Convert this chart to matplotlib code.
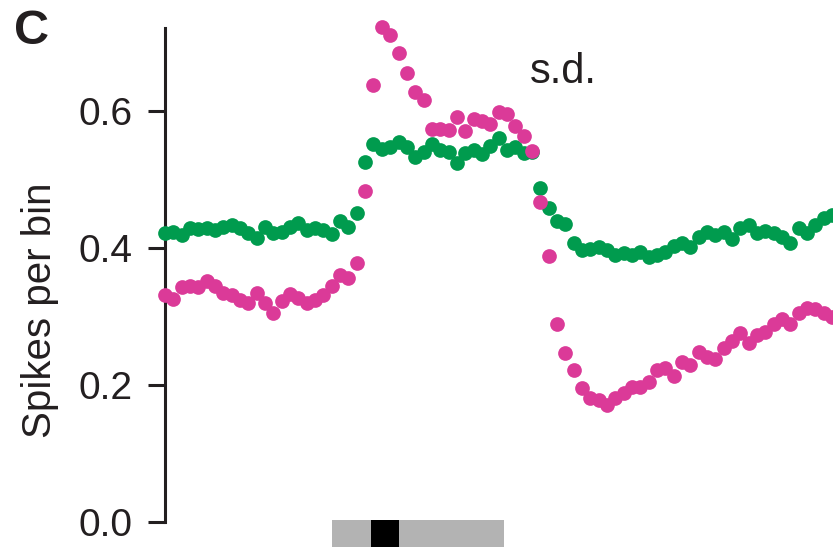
import matplotlib
matplotlib.use('Agg')
import matplotlib.pyplot as plt
import numpy as np

plt.rcParams['font.family'] = ['Liberation Sans', 'DejaVu Sans']

# Mean spike counts per time bin for the two conditions
green_counts = [
    0.422, 0.423, 0.419, 0.429, 0.428, 0.429, 0.426, 0.431, 0.434, 0.429,
    0.422, 0.414, 0.431, 0.422, 0.423, 0.431, 0.436, 0.426, 0.429, 0.426,
    0.420, 0.439, 0.431, 0.451, 0.526, 0.552, 0.544, 0.548, 0.555, 0.548,
    0.533, 0.540, 0.552, 0.543, 0.540, 0.524, 0.539, 0.543, 0.537, 0.549,
    0.561, 0.543, 0.548, 0.539, 0.540, 0.488, 0.458, 0.439, 0.435, 0.407,
    0.397, 0.399, 0.401, 0.397, 0.390, 0.393, 0.390, 0.394, 0.387, 0.390,
    0.394, 0.403, 0.407, 0.401, 0.416, 0.423, 0.419, 0.423, 0.413, 0.429,
    0.434, 0.422, 0.425, 0.422, 0.416, 0.407, 0.429, 0.422, 0.434, 0.444,
    0.448,
]
magenta_counts = [
    0.331, 0.326, 0.343, 0.345, 0.343, 0.352, 0.345, 0.334, 0.331, 0.324,
    0.320, 0.334, 0.320, 0.305, 0.323, 0.333, 0.327, 0.320, 0.324, 0.331,
    0.345, 0.361, 0.356, 0.378, 0.483, 0.638, 0.723, 0.711, 0.685, 0.656,
    0.628, 0.616, 0.574, 0.574, 0.572, 0.591, 0.571, 0.588, 0.585, 0.581,
    0.599, 0.596, 0.578, 0.564, 0.542, 0.467, 0.388, 0.289, 0.247, 0.222,
    0.196, 0.181, 0.178, 0.171, 0.181, 0.188, 0.197, 0.197, 0.204, 0.222,
    0.225, 0.213, 0.234, 0.229, 0.248, 0.241, 0.238, 0.254, 0.264, 0.276,
    0.261, 0.273, 0.277, 0.289, 0.296, 0.289, 0.305, 0.312, 0.311, 0.305,
    0.299,
]
bins = np.arange(len(green_counts))

# Stimulus timeline: grey period with the black flash inside it
stim_start, stim_end = 20.0, 40.6
flash_start, flash_end = 24.7, 28.0

y_ticks = [0.0, 0.2, 0.4, 0.6]
y_tick_labels = ['0.0', '0.2', '0.4', '0.6']

GREEN = '#009B4E'
MAGENTA = '#DB3A98'
INK = '#231f20'

fig = plt.figure(figsize=(8.33, 5.47), dpi=100)
ax = fig.add_axes([165 / 833, 25 / 547, 1 - 165 / 833, 494 / 547])

ax.scatter(bins, green_counts, s=112, color=GREEN, linewidths=0, clip_on=False, zorder=3)
ax.scatter(bins, magenta_counts, s=112, color=MAGENTA, linewidths=0, clip_on=False, zorder=3)

ax.set_xlim(0, 80.1)
ax.set_ylim(0, 0.7212)

for side in ['top', 'right', 'bottom']:
    ax.spines[side].set_visible(False)
ax.spines['left'].set_linewidth(2.2)
ax.spines['left'].set_color(INK)
ax.set_xticks([])
ax.set_yticks(y_ticks)
ax.set_yticklabels(y_tick_labels)
ax.tick_params(axis='y', length=12.5, width=2.2, pad=11, labelsize=28, colors=INK)

# stimulus bar below the axis
ax.fill_between([stim_start, stim_end], 0.003, -0.04, color='#b3b3b3',
                linewidth=0, clip_on=False)
ax.fill_between([flash_start, flash_end], 0.003, -0.04, color='black',
                linewidth=0, clip_on=False)

fig.text(40 / 833, 1 - 310 / 547, 'Spikes per bin', rotation=90, fontsize=29,
         ha='center', va='center', color=INK)
fig.text(14 / 833, 1 - 31 / 547, 'C', fontsize=35, fontweight='bold',
         ha='left', va='center', color=INK)
fig.text(530 / 833, 1 - 72 / 547, 's.d.', fontsize=30, ha='left', va='center',
         color=INK)

plt.savefig('out.png', dpi=100)
plt.close()
